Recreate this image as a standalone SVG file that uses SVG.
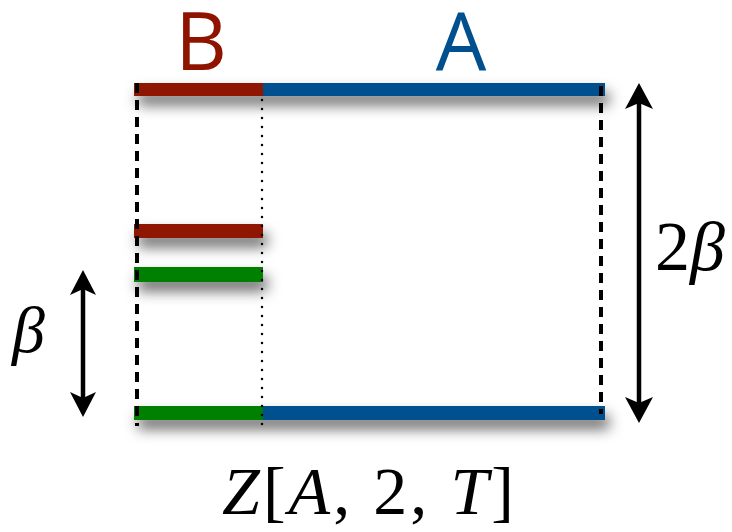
<svg xmlns="http://www.w3.org/2000/svg" width="732" height="532" viewBox="0 0 732 532">
<defs>
<filter id="sh" x="-20%" y="-150%" width="140%" height="500%">
<feDropShadow dx="4" dy="9" stdDeviation="7" flood-color="#000" flood-opacity="0.6"/>
</filter>
<marker id="ah" markerWidth="26" markerHeight="26" refX="24" refY="13" orient="auto-start-reverse" markerUnits="userSpaceOnUse" viewBox="0 0 26 26">
<path d="M0,0 L24,13 L0,26 L5,13 Z" fill="#000"/>
</marker>
</defs>
<style>
.red{fill:#8f1400}
.blue{fill:#00508f}
.green{fill:#008000}
.dash{stroke:#000;stroke-width:4;stroke-dasharray:10 7;fill:none}
.dot{stroke:#000;stroke-width:2.5;stroke-dasharray:0 9;stroke-linecap:round;fill:none}
.arr{stroke:#000;stroke-width:4.5;fill:none}
.lab{font-family:"Open Sans","DejaVu Sans",sans-serif;font-size:80px;font-weight:500}
.math{font-family:"Liberation Serif","DejaVu Serif",serif;font-style:italic;fill:#000}
</style>
<g id="bars">
<g id="top-bar" filter="url(#sh)">
<rect x="134" y="83" width="130" height="13" class="red"/>
<rect x="263" y="83" width="342" height="13" class="blue"/>
</g>
<g id="mid-red" filter="url(#sh)"><rect x="134" y="224" width="129" height="14" class="red"/></g>
<g id="mid-green" filter="url(#sh)"><rect x="134" y="267" width="129" height="15" class="green"/></g>
<g id="bottom-bar" filter="url(#sh)">
<rect x="134" y="406" width="130" height="14" class="green"/>
<rect x="263" y="406" width="342" height="14" class="blue"/>
</g>
</g>
<g id="connectors">
<line x1="137" y1="83" x2="137" y2="426" class="dash"/>
<line x1="262" y1="100" x2="262" y2="426" class="dot"/>
<line x1="601" y1="86" x2="601" y2="414" class="dash"/>
<line x1="639" y1="100" x2="639" y2="407" class="arr"/>
<path d="M639,83 L653,109 L639,103 L625,109 Z M639,423 L653,397 L639,403 L625,397 Z" fill="#000"/>
<line x1="83" y1="285" x2="83" y2="402" class="arr"/>
<path d="M83,270 L96,295 L83,289 L70,295 Z M83,417 L96,392 L83,398 L70,392 Z" fill="#000"/>
</g>
<g id="labels">
<text x="201" y="70" text-anchor="middle" class="lab" fill="#8f1400">B</text>
<text x="461" y="70" text-anchor="middle" class="lab" fill="#00508f">A</text>
<text x="655" y="270" class="math" font-size="70"><tspan font-style="normal">2</tspan>β</text>
<text x="12" y="352" class="math" font-size="66">β</text>
<text x="222" y="514" class="math" font-size="68" textLength="292" lengthAdjust="spacing">Z<tspan font-style="normal">[</tspan>A<tspan font-style="normal">, 2, </tspan>T<tspan font-style="normal">]</tspan></text>
</g>
</svg>
